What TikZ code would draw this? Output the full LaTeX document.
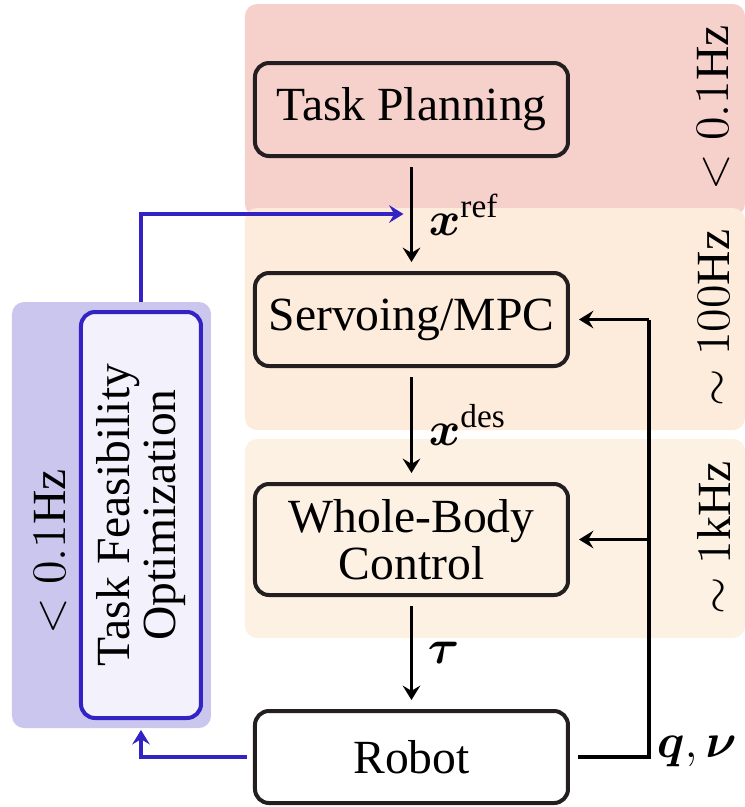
\documentclass[tikz,border=0pt]{standalone}
\usepackage{amsmath}
\usepackage{bm}
\usepackage{fontspec}
\setmainfont{Liberation Serif}
\usetikzlibrary{arrows.meta}
\definecolor{pinkbg}{HTML}{F6D1CC}
\definecolor{beigeA}{HTML}{FDEBDB}
\definecolor{beigeB}{HTML}{FDF1E3}
\definecolor{bluebg}{HTML}{CAC6EE}
\definecolor{bluefill}{HTML}{F3F2FC}
\definecolor{blueline}{HTML}{3322C4}
\definecolor{boxline}{HTML}{231F20}
\tikzset{
  region/.style={rounded corners=3pt},
  blockbox/.style={draw=boxline, line width=1pt, rounded corners=3.5pt,
    minimum width=78.25pt, minimum height=23.25pt, align=center, inner sep=2pt},
  tfobox/.style={draw=blueline, fill=bluefill, line width=1pt, rounded corners=3.5pt,
    minimum width=101.5pt, minimum height=30pt, align=center, rotate=90, inner sep=1pt},
  arr/.style={line width=0.8pt, -{Stealth[length=3.6pt,width=4.4pt,inset=1.3pt]},
    shorten <=2.25pt, shorten >=2.25pt},
  plainline/.style={line width=0.8pt},
  bluearr/.style={line width=0.8pt, draw=blueline, -{Stealth[length=3.6pt,width=4.4pt,inset=1.3pt]}},
  freq/.style={rotate=90, inner sep=0pt},
  sig/.style={anchor=base west, inner sep=0pt}
}
\begin{document}
\begin{tikzpicture}[x=0.25pt,y=-0.25pt, font=\fontsize{11.9}{11.7}\selectfont]
\useasboundingbox (0,0) rectangle (745,807);
% background regions
\fill[region, pinkbg] (245,4) rectangle (745,216);
\fill[region, beigeA] (245,208) rectangle (745,430);
\fill[region, beigeB] (245,439) rectangle (745,638);
\fill[region, bluebg] (12,302) rectangle (211,728);
% blocks
\node[blockbox] (tp) at (411.5,109.5) {Task Planning};
\node[blockbox] (sm) at (411.5,319.5) {Servoing/MPC};
\node[blockbox, minimum height=27.75pt] (wbc) at (411.5,539.5) {Whole-Body\\Control};
\node[blockbox, minimum height=23pt] (rob) at (411.5,757) {Robot};
\node[tfobox] (tfo) at (141,515) {Task Feasibility\\Optimization};
% frequency labels
\node[freq] (f1) at (714,108) {$<0.1\mathrm{Hz}$};
\node[freq] (f2) at (714,318) {$\sim 100\mathrm{Hz}$};
\node[freq] (f3) at (714,538) {$\sim 1\mathrm{kHz}$};
\node[freq] (f4) at (51,552) {$<0.1\mathrm{Hz}$};
% main chain
\draw[arr] (tp) -- (sm);
\draw[arr] (sm) -- (wbc);
\draw[arr] (wbc) -- (rob);
\node[sig] (lref) at (428,235) {$\bm{x}^{\text{ref}}$};
\node[sig] (ldes) at (428,445) {$\bm{x}^{\text{des}}$};
\node[sig] (ltau) at (427,663) {$\bm{\tau}$};
\node[sig] (lq) at (656,757) {$\bm{q},\bm{\nu}$};
% feedback
\coordinate (fbtop) at (649,319.5);
\coordinate (fbmid) at (649,539.5);
\draw[plainline, shorten <=2pt] (rob.east) -| (fbtop);
\draw[arr, shorten <=0pt] (fbtop) -- (sm.east);
\draw[arr, shorten <=0pt] (fbmid) -- (wbc.east);
% blue loop
\coordinate (xin) at (411.5,214);
\draw[bluearr, shorten <=1.5pt, shorten >=2.5pt] (rob.west) -| (tfo);
\draw[bluearr, shorten <=2pt, shorten >=2pt] (tfo) |- (xin);
\end{tikzpicture}
\end{document}
